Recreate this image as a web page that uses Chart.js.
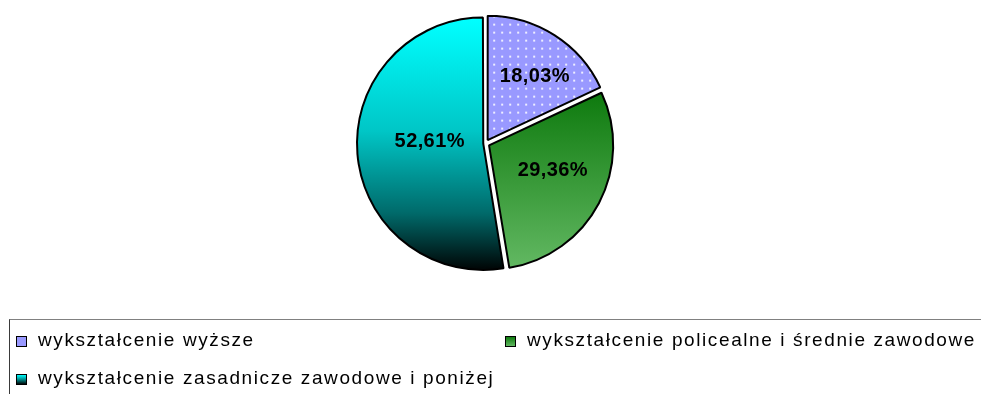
<!DOCTYPE html>
<html lang="pl">
<head>
<meta charset="utf-8">
<title>Wykształcenie</title>
<script src="https://cdn.jsdelivr.net/npm/chart.js@4.4.1/dist/chart.umd.min.js"></script>
<style>
  html, body { margin: 0; padding: 0; background: #fff; width: 981px; height: 394px; overflow: hidden; }
  body { position: relative; font-family: "Liberation Sans", Arial, sans-serif; }
  #pie { position: absolute; left: 0; top: 0; }
  #legendBox {
    position: absolute; left: 9px; top: 319px; width: 1000px; height: 120px;
    border-top: 1px solid #808080; border-left: 1px solid #3a3a3a;
  }
  .item {
    position: absolute; font-size: 19px; line-height: 20px; letter-spacing: 1.6px;
    color: #000; white-space: nowrap; padding-left: 22px;
  }
  .item i {
    position: absolute; left: 0; top: 6px; width: 9px; height: 9px;
    border: 1px solid #000;
  }
</style>
</head>
<body>
<canvas id="pie" width="981" height="394"></canvas>
<div id="legendBox"></div>
<script>
// Struktura wykształcenia (%)
const categories = [
  'wykształcenie wyższe',
  'wykształcenie policealne i średnie zawodowe',
  'wykształcenie zasadnicze zawodowe i poniżej'
];
const shares = [18.03, 29.36, 52.61];
const shareLabels = ['18,03%', '29,36%', '52,61%'];

const PIE_RADIUS = 124;

// Fill styles per slice
const canvas = document.getElementById('pie');
const ctx2d = canvas.getContext('2d');

function dottedFill() {
  const tile = document.createElement('canvas');
  tile.width = 8; tile.height = 8;
  const t = tile.getContext('2d');
  t.fillStyle = '#9999ff';
  t.fillRect(0, 0, 8, 8);
  t.fillStyle = '#eeeeff';
  t.fillRect(3, 3, 2, 2);
  return ctx2d.createPattern(tile, 'repeat');
}
const lavenderDots = dottedFill();

const gradientStops = [
  null,
  [[0, '#0e7a0e'], [1, '#62b862']],
  [[0, '#00ffff'], [0.45, '#00c6c6'], [0.78, '#006a6a'], [1, '#000808']]
];

// Vertical extent of a slice, from the cumulative shares
function sliceExtent(index, cy, r) {
  const total = shares.reduce((a, b) => a + b, 0);
  let a0 = 0;
  for (let k = 0; k < index; k++) a0 += shares[k] / total * 360;
  const a1 = a0 + shares[index] / total * 360;
  const cosVals = [0, Math.cos(a0 * Math.PI / 180), Math.cos(a1 * Math.PI / 180)];
  if (a0 <= 0 || a1 >= 360) cosVals.push(1);
  if (a0 <= 180 && a1 >= 180) cosVals.push(-1);
  return [cy - r * Math.max(...cosVals), cy - r * Math.min(...cosVals)];
}

function sliceFill(context) {
  const i = context.dataIndex;
  if (i === 0) return lavenderDots;
  const area = context.chart.chartArea;
  const stops = gradientStops[i];
  if (!area) return stops[0][1];
  const cy = (area.top + area.bottom) / 2;
  const [y0, y1] = sliceExtent(i, cy, PIE_RADIUS);
  const g = context.chart.ctx.createLinearGradient(0, y0, 0, y1);
  stops.forEach(([p, c]) => g.addColorStop(p, c));
  return g;
}

// Percentage labels inside slices
const sliceLabels = {
  id: 'sliceLabels',
  afterDatasetsDraw(chart, args, opts) {
    const meta = chart.getDatasetMeta(0);
    const c = chart.ctx;
    c.save();
    c.font = opts.font;
    if ('letterSpacing' in c) c.letterSpacing = opts.spacing;
    c.fillStyle = '#000';
    c.textAlign = 'center';
    c.textBaseline = 'middle';
    meta.data.forEach((arc, i) => {
      const p = arc.getProps(['x', 'y', 'startAngle', 'endAngle', 'outerRadius'], true);
      const place = opts.place[i];
      const a = (p.startAngle + p.endAngle) / 2 + place.turn * Math.PI / 180;
      const r = p.outerRadius * place.radius;
      c.fillText(shareLabels[i], p.x + Math.cos(a) * r, p.y + Math.sin(a) * r);
    });
    c.restore();
  }
};

new Chart(canvas, {
  type: 'pie',
  data: {
    labels: categories,
    datasets: [{
      data: shares,
      backgroundColor: sliceFill,
      borderColor: '#000',
      borderWidth: 2,
      offset: [16, 16, 9]
    }]
  },
  options: {
    responsive: false,
    animation: false,
    events: [],
    radius: PIE_RADIUS,
    layout: { padding: { left: 0, right: 10, top: 0, bottom: 107 } },
    plugins: {
      legend: { display: false },
      tooltip: { enabled: false },
      sliceLabels: {
        font: 'bold 20px "Liberation Sans", Arial, sans-serif',
        spacing: '0.4px',
        place: [
          { radius: 0.67, turn: 4 },
          { radius: 0.585, turn: -6 },
          { radius: 0.45, turn: 6.6 }
        ]
      }
    }
  },
  plugins: [sliceLabels]
});

// Legend built from the same categories
const legendSwatches = [
  'background:#9999ff;',
  'background:linear-gradient(#0e7a0e,#62b862);',
  'background:linear-gradient(#00ffff,#008080 55%,#000808);'
];
const legendSlots = [[16, 330], [505, 330], [16, 368]];
categories.forEach((name, i) => {
  const el = document.createElement('div');
  el.className = 'item';
  el.style.left = legendSlots[i][0] + 'px';
  el.style.top = legendSlots[i][1] + 'px';
  const sw = document.createElement('i');
  sw.setAttribute('style', legendSwatches[i]);
  el.appendChild(sw);
  el.appendChild(document.createTextNode(name));
  document.body.appendChild(el);
});
</script>
</body>
</html>
